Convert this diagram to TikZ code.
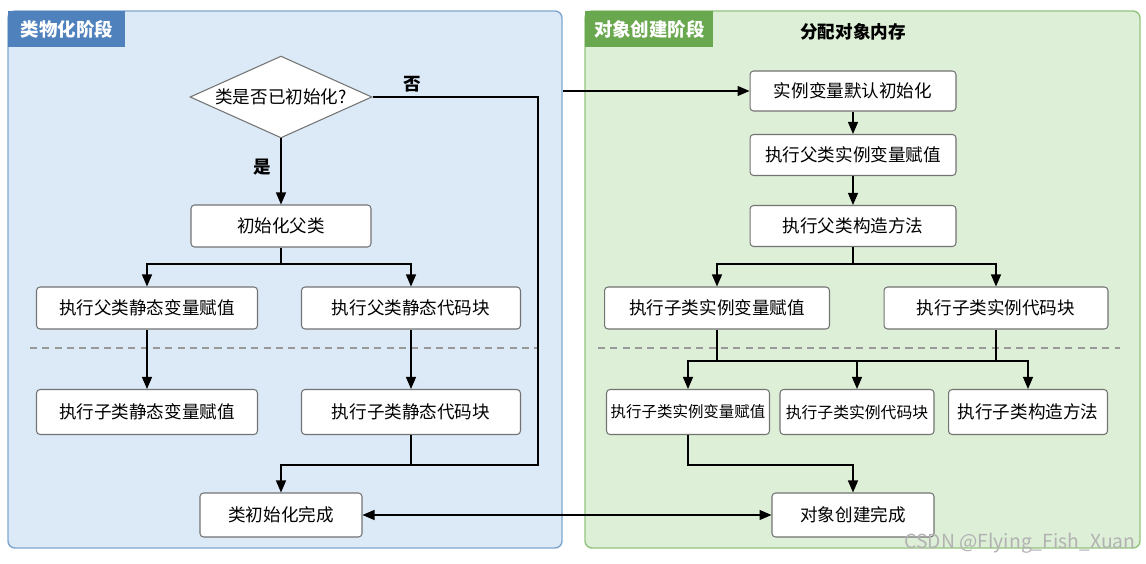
\documentclass[tikz,border=0pt]{standalone}
\usepackage{fontspec}
\newfontfamily\cjk{Noto Sans CJK SC}
\usetikzlibrary{arrows.meta,shapes.geometric}

\definecolor{leftbg}{HTML}{DCEAF7}
\definecolor{leftline}{HTML}{7FA6CF}
\definecolor{lefttab}{HTML}{4F81BD}
\definecolor{rightbg}{HTML}{DEEFD7}
\definecolor{rightline}{HTML}{93C47D}
\definecolor{righttab}{HTML}{6AA84F}

\tikzset{
  box/.style={draw=black!55, fill=white, rounded corners=2pt, line width=0.6pt,
    font=\cjk\fontsize{10}{12}\selectfont, minimum height=0.84cm, inner sep=1pt},
  decision/.style={diamond, draw=black!55, fill=white, line width=0.6pt, shape aspect=2,
    font=\cjk\fontsize{10}{12}\selectfont, minimum width=3.64cm, inner sep=0pt},
  tab/.style={anchor=north west, text=white, font=\cjk\bfseries\fontsize{10.5}{12}\selectfont,
    minimum height=0.72cm, inner sep=0pt},
  flow/.style={line width=0.7pt, -{Triangle[length=2.4mm,width=2mm]}},
  link/.style={line width=0.7pt},
  sep/.style={draw=black!40, line width=0.6pt, dash pattern=on 4pt off 3pt},
  lbl/.style={font=\cjk\bfseries\fontsize{10}{12}\selectfont}
}

\begin{document}
\begin{tikzpicture}[x=0.02cm, y=-0.02cm]

\useasboundingbox (0,0) rectangle (1146,564);

% panels
\draw[draw=leftline, fill=leftbg, rounded corners=4pt, line width=0.8pt] (8,11) rectangle (562,548);
\draw[draw=rightline, fill=rightbg, rounded corners=4pt, line width=0.8pt] (585,11) rectangle (1140,548);
\node[tab, fill=lefttab, minimum width=2.34cm] (ltab) at (8,11) {类物化阶段};
\node[tab, fill=righttab, minimum width=2.56cm] (rtab) at (585,11) {对象创建阶段};
\node[lbl] (alloc) at (853,32) {分配对象内存};

% class side
\node[decision] (chk) at (281,97) {类是否已初始化?};
\node[box, minimum width=3.6cm] (pinit) at (281,226) {初始化父类};
\node[box, minimum width=4.42cm] (psv) at (147,308) {执行父类静态变量赋值};
\node[box, minimum width=4.38cm] (psb) at (411,308) {执行父类静态代码块};
\node[box, minimum width=4.42cm, minimum height=0.9cm] (csv) at (147,412) {执行子类静态变量赋值};
\node[box, minimum width=4.38cm, minimum height=0.9cm] (csb) at (411,412) {执行子类静态代码块};
\node[box, minimum width=3.24cm, minimum height=0.88cm] (cdone) at (281,515) {类初始化完成};

% object side
\node[box, minimum width=4.12cm, minimum height=0.8cm] (idef) at (853,91) {实例变量默认初始化};
\node[box, minimum width=4.12cm, minimum height=0.82cm] (piv) at (853,155) {执行父类实例变量赋值};
\node[box, minimum width=4.12cm, minimum height=0.82cm] (pctor) at (853,226) {执行父类构造方法};
\node[box, minimum width=4.5cm] (civ) at (717,308) {执行子类实例变量赋值};
\node[box, minimum width=4.48cm] (cib) at (996,308) {执行子类实例代码块};
\node[box, minimum width=3.26cm, minimum height=0.9cm, font=\cjk\fontsize{8.8}{11}\selectfont] (civ2) at (688,412) {执行子类实例变量赋值};
\node[box, minimum width=3.08cm, minimum height=0.9cm, font=\cjk\fontsize{9}{11}\selectfont] (cib2) at (857,412) {执行子类实例代码块};
\node[box, minimum width=3.18cm, minimum height=0.9cm] (cctor) at (1028,412) {执行子类构造方法};
\node[box, minimum width=3.24cm, minimum height=0.88cm] (odone) at (853,515) {对象创建完成};

% joints
\coordinate (lsplit) at (281,264);
\coordinate (ljoin) at (538,465);
\coordinate (lout) at (563,91);
\coordinate (rsplit) at (853,264);
\coordinate (rmerge) at (857,361);
\coordinate (rjoin) at (853,465);

% dashed separators
\draw[sep] (30,348) -- (538,348);
\draw[sep] (598,348) -- (1120,348);

% class arrows
\draw[flow] (chk.south) -- (pinit.north);
\draw[link] (pinit.south) -- (lsplit);
\draw[flow] (lsplit) -| (psv.north);
\draw[flow] (lsplit) -| (psb.north);
\draw[flow] (psv.south) -- (csv.north);
\draw[flow] (psb.south) -- (csb.north);
\draw[link] (csb.south) -- (csb.south |- ljoin);
\draw[flow] (chk.east) -| (ljoin) -| (cdone.north);

% object arrows
\draw[flow] (lout) -- (idef.west);
\draw[flow] (idef.south) -- (piv.north);
\draw[flow] (piv.south) -- (pctor.north);
\draw[link] (pctor.south) -- (rsplit);
\draw[flow] (rsplit) -| (civ.north);
\draw[flow] (rsplit) -| (cib.north);
\draw[link] (civ.south) -- (civ.south |- rmerge);
\draw[link] (cib.south) -- (cib.south |- rmerge);
\draw[flow] (rmerge) -| (civ2.north);
\draw[flow] (rmerge) -- (cib2.north);
\draw[flow] (rmerge) -| (cctor.north);
\draw[flow] (civ2.south) |- (rjoin) -- (odone.north);

% both done
\draw[line width=0.7pt, {Triangle[length=2.4mm,width=2mm]}-{Triangle[length=2.4mm,width=2mm]}] (cdone.east) -- (odone.west);

% labels
\node[lbl] (no) at (412,84) {否};
\node[lbl] (yes) at (262,167) {是};
\node[font=\cjk\fontsize{11}{13}\selectfont, text=black!30] (wm) at (1020,543) {CSDN @Flying\_Fish\_Xuan};

\end{tikzpicture}
\end{document}
